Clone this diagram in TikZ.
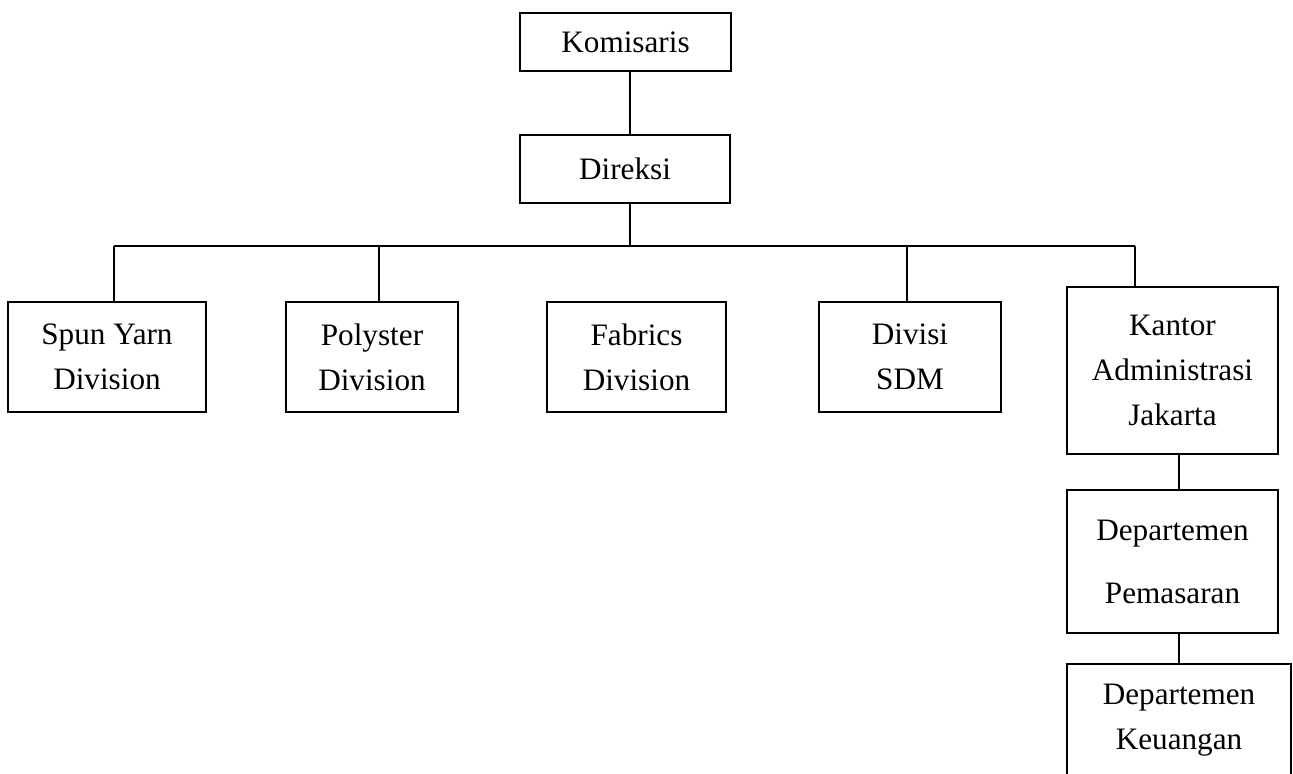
\documentclass[tikz,border=0pt]{standalone}
\usepackage{fontspec}
\setmainfont{Liberation Serif}
\begin{document}
\begin{tikzpicture}[x=0.5pt,y=-0.5pt,
  box/.style={draw, line width=1.2pt, rectangle, inner sep=0pt, align=center,
    font=\fontsize{15.6}{22.5}\selectfont},
  conn/.style={line width=1.2pt}]
\useasboundingbox (0,0) rectangle (1293,773);
\node[box, minimum width=105.5pt, minimum height=29pt] (kom) at (625.5,42) {Komisaris};
\node[box, minimum width=105pt, minimum height=34pt] (dir) at (625,169) {Direksi};
\node[box, minimum width=99pt, minimum height=55pt] (spun) at (107,357) {Spun Yarn\\Division};
\node[box, minimum width=86pt, minimum height=55pt] (poly) at (372,357) {Polyster\\Division};
\node[box, minimum width=89.5pt, minimum height=55pt] (fab) at (636.5,357) {Fabrics\\Division};
\node[box, minimum width=91pt, minimum height=55pt] (sdm) at (910,357) {Divisi\\SDM};
\node[box, minimum width=105.5pt, minimum height=83.5pt] (kantor) at (1172.5,370.5) {Kantor\\Administrasi\\Jakarta};
\node[box, minimum width=105.5pt, minimum height=71.5pt] (pem) at (1172.5,561.5) {Departemen\\[9pt]Pemasaran};
\node[box, minimum width=112pt, minimum height=56pt] (keu) at (1179,720) {Departemen\\Keuangan};
\coordinate (b0) at (630,246);
\coordinate (b1) at (114,246);
\coordinate (b2) at (379,246);
\coordinate (b4) at (907,246);
\coordinate (b5) at (1135,246);
\draw[conn] (kom.south -| b0) -- (dir.north -| b0);
\draw[conn] (dir.south -| b0) -- (b0);
\draw[conn] (b1) -- (b5);
\draw[conn] (b1) -- (b1 |- spun.north);
\draw[conn] (b2) -- (b2 |- poly.north);
\draw[conn] (b4) -- (b4 |- sdm.north);
\draw[conn] (b5) -- (b5 |- kantor.north);
\draw[conn] (kantor.south -| keu.north) -- (pem.north -| keu.north);
\draw[conn] (pem.south -| keu.north) -- (keu.north);
\end{tikzpicture}
\end{document}
